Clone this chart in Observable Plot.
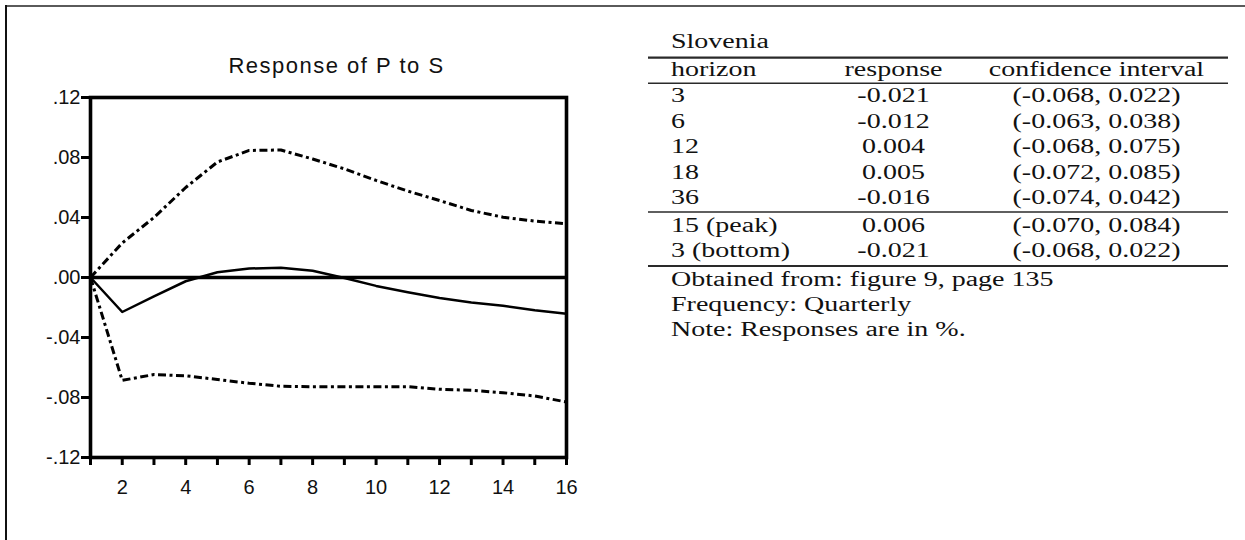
<!DOCTYPE html>
<html>
<head>
<meta charset="utf-8">
<script src="https://cdn.jsdelivr.net/npm/d3@7"></script>
<script src="https://cdn.jsdelivr.net/npm/@observablehq/plot@0.6"></script>
<style>
  html, body { margin: 0; padding: 0; background: #fff; }
  #wrap { position: relative; width: 1245px; height: 540px; background: #fff; overflow: hidden; }
  #chart { position: absolute; left: 0; top: 0; }
  #table { position: absolute; left: 0; top: 0; }
  .edge { position: absolute; }
</style>
</head>
<body>
<div id="wrap">
  <div id="chart"></div>
  <svg id="table" width="1245" height="540"></svg>
  <div class="edge" style="left:5px;top:5px;width:1240px;height:1.5px;background:#5a5a5a"></div>
  <div class="edge" style="left:5px;top:5px;width:1.6px;height:535px;background:#111"></div>
</div>
<script>
// ---- chart data ----
const chartTitle = "Response of P to S";
const periods  = [1, 2, 3, 4, 5, 6, 7, 8, 9, 10, 11, 12, 13, 14, 15, 16];
const response = [0, -0.023, -0.0126, -0.0025, 0.0035, 0.006, 0.0065, 0.0045, -0.0003, -0.0056, -0.0098, -0.0136, -0.0167, -0.0188, -0.0218, -0.0242];
const upper    = [0, 0.023, 0.040, 0.060, 0.077, 0.0847, 0.085, 0.079, 0.0724, 0.0647, 0.0576, 0.0513, 0.0447, 0.0402, 0.0376, 0.0358];
const lower    = [0, -0.0686, -0.0647, -0.0655, -0.068, -0.0705, -0.0725, -0.0728, -0.0728, -0.0728, -0.0728, -0.0745, -0.0752, -0.0768, -0.079, -0.083];
const yTicks      = [-0.12, -0.08, -0.04, 0, 0.04, 0.08, 0.12];
const yTickLabels = ["-.12", "-.08", "-.04", ".00", ".04", ".08", ".12"];
const xTicks      = [1, 2, 3, 4, 5, 6, 7, 8, 9, 10, 11, 12, 13, 14, 15, 16];
const xTickLabels = ["", "2", "", "4", "", "6", "", "8", "", "10", "", "12", "", "14", "", "16"];

// ---- table data ----
const tableCountry = "Slovenia";
const tableHeader = ["horizon", "response", "confidence interval"];
const horizons = ["3", "6", "12", "18", "36"];
const horizonResponses = ["-0.021", "-0.012", "0.004", "0.005", "-0.016"];
const horizonIntervals = ["(-0.068, 0.022)", "(-0.063, 0.038)", "(-0.068, 0.075)", "(-0.072, 0.085)", "(-0.074, 0.042)"];
const extremes = ["15 (peak)", "3 (bottom)"];
const extremeResponses = ["0.006", "-0.021"];
const extremeIntervals = ["(-0.070, 0.084)", "(-0.068, 0.022)"];
const tableNotes = ["Obtained from: figure 9, page 135", "Frequency: Quarterly", "Note: Responses are in %."];

// ---- build chart ----
const rows = (vals) => periods.map((p, i) => ({x: p, y: vals[i]}));
const yLab = new Map(yTicks.map((t, i) => [t, yTickLabels[i]]));
const xLab = new Map(xTicks.map((t, i) => [t, xTickLabels[i]]));
const band = {stroke: "#000", strokeWidth: 3, strokeDasharray: "8,3.5,3,3.5", strokeLinecap: "butt"};

const chart = Plot.plot({
  width: 620,
  height: 540,
  marginLeft: 90,
  marginRight: 54,
  marginTop: 97,
  marginBottom: 83,
  style: {fontFamily: '"Liberation Sans", Arial, sans-serif', fontSize: "20px", color: "#000", background: "transparent", overflow: "visible"},
  x: {domain: [1, 16]},
  y: {domain: [-0.12, 0.12]},
  marks: [
    Plot.ruleY([0], {stroke: "#000", strokeWidth: 3.4}),
    Plot.line(rows(upper), {x: "x", y: "y", ...band}),
    Plot.line(rows(lower), {x: "x", y: "y", ...band}),
    Plot.line(rows(response), {x: "x", y: "y", stroke: "#000", strokeWidth: 2.5}),
    Plot.frame({stroke: "#000", strokeWidth: 3.6}),
    Plot.axisY(yTicks, {tickSize: 9, tickPadding: 1, strokeWidth: 3, fontSize: 20, fill: "#111", tickFormat: d => yLab.get(d), label: null}),
    Plot.axisX(xTicks, {tickSize: 8, tickPadding: 14, strokeWidth: 3, fontSize: 20, fill: "#111", tickFormat: d => xLab.get(d), label: null}),
    Plot.text([chartTitle], {text: d => d, frameAnchor: "top", lineAnchor: "middle", dy: -32, dx: 8, fontSize: 22, fill: "#111"})
  ]
});
d3.select(chart).selectAll("text")
  .filter(function () { return this.textContent === chartTitle; })
  .attr("letter-spacing", "1.5px");
document.getElementById("chart").appendChild(chart);

// ---- build table ----
const S = 1.4;
const svg = d3.select("#table");
const g = svg.append("g")
  .attr("transform", `scale(${S},1)`)
  .attr("font-family", '"Liberation Serif", "Times New Roman", serif')
  .attr("font-size", 20)
  .attr("fill", "#111");
const col1 = 671, col2 = 893.5, col3 = 1096.5;
const put = (txt, x, y, anchor) => g.append("text").attr("x", x / S).attr("y", y).attr("text-anchor", anchor).text(txt);
const rule = (y, w) => svg.append("line").attr("x1", 648).attr("x2", 1228).attr("y1", y).attr("y2", y).attr("stroke", "#2a2a2a").attr("stroke-width", w);

put(tableCountry, col1, 48.3, "start");
rule(57.7, 2.2);
put(tableHeader[0], col1, 75.7, "start");
put(tableHeader[1], col2, 75.7, "middle");
put(tableHeader[2], col3, 75.7, "middle");
rule(83.3, 1.6);
const pitch = 25.4;
horizons.forEach((h, i) => {
  const y = 102.5 + i * pitch;
  put(h, col1, y, "start");
  put(horizonResponses[i], col2, y, "middle");
  put(horizonIntervals[i], col3, y, "middle");
});
rule(212, 1.6);
extremes.forEach((h, i) => {
  const y = 231.7 + i * pitch;
  put(h, col1, y, "start");
  put(extremeResponses[i], col2, y, "middle");
  put(extremeIntervals[i], col3, y, "middle");
});
rule(266, 2.2);
tableNotes.forEach((n, i) => put(n, col1, 285.6 + i * pitch, "start"));
</script>
</body>
</html>
